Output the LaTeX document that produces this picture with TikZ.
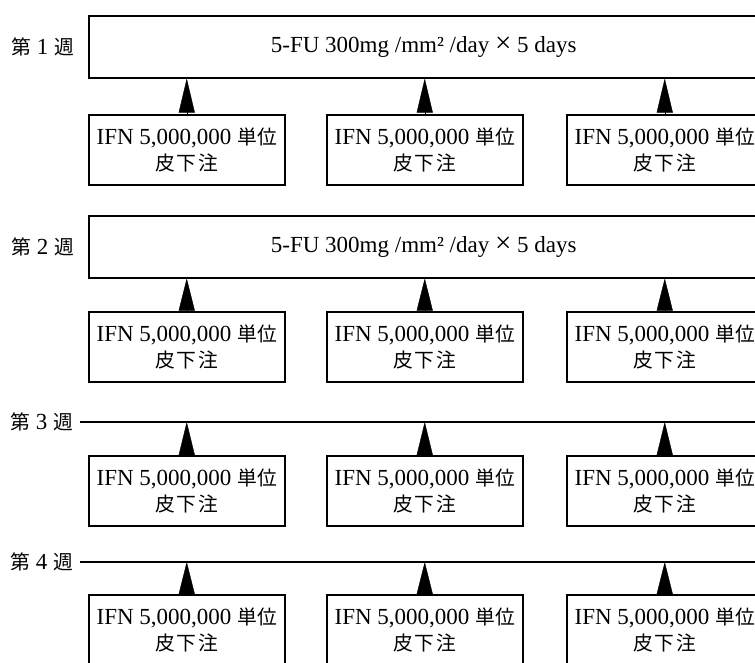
\documentclass[tikz,border=0pt]{standalone}
\usepackage{fontspec}
\setmainfont{Liberation Serif}
\newfontfamily\jp{Noto Sans CJK JP}[Scale=0.86]
\usepackage{tikz}
\usetikzlibrary{positioning, arrows.meta}
\tikzset{
    week/.style={
        draw,
        line width=1.5pt,
        anchor=north west,
        minimum width=670pt,
        minimum height=62pt,
        inner sep=0pt
    },
    dose/.style={
        draw,
        line width=1.5pt,
        anchor=north west,
        minimum width=196pt,
        minimum height=70pt,
        inner sep=0pt,
        align=center
    },
    wk/.style={
        inner sep=0pt
    },
    spike/.style={
        line width=0.4pt,
        -{Triangle[length=#1,width=16pt]}
    }
}
\newcommand{\ifn}{IFN 5,000,000 {\jp 単位}\\{\jp 皮\kern2pt 下\kern2pt 注}}
\newcommand{\fu}{5-FU 300mg /mm² /day {\fontsize{29pt}{26pt}\selectfont ×} 5 days}

\begin{document}
\begin{tikzpicture}[x=1pt,y=-1pt,
        font=\fontsize{23pt}{26pt}\selectfont
      ]
      \clip (0,0) rectangle (755,662);

      % week 1 and 2: 5-FU bars
      \node[week] (w1) at (88,15) {\fu};
      \node[week] (w2) at (88,215) {\fu};
      \node[wk, left=14pt of w1] (l1) {{\jp 第} 1 {\jp 週}};
      \node[wk, left=14pt of w2] (l2) {{\jp 第} 2 {\jp 週}};

      % week 3 and 4: plain lines
      \coordinate (w3) at (80,422);
      \coordinate (w3e) at (760,422);
      \coordinate (w4) at (80,562);
      \coordinate (w4e) at (760,562);
      \draw[line width=1.5pt] (w3) -- (w3e);
      \draw[line width=1.5pt] (w4) -- (w4e);
      \node[wk, left=7pt of w3] (l3) {{\jp 第} 3 {\jp 週}};
      \node[wk, left=7pt of w4] (l4) {{\jp 第} 4 {\jp 週}};

      % IFN boxes
      \node[dose] (b11) at (88,114) {\ifn};
      \node[dose] (b12) at (326,114) {\ifn};
      \node[dose] (b13) at (566,114) {\ifn};
      \node[dose] (b21) at (88,311) {\ifn};
      \node[dose] (b22) at (326,311) {\ifn};
      \node[dose] (b23) at (566,311) {\ifn};
      \node[dose] (b31) at (88,455) {\ifn};
      \node[dose] (b32) at (326,455) {\ifn};
      \node[dose] (b33) at (566,455) {\ifn};
      \node[dose] (b41) at (88,594) {\ifn};
      \node[dose] (b42) at (326,594) {\ifn};
      \node[dose] (b43) at (566,594) {\ifn};

      \draw[spike=34pt] (b11.north) -- (b11.north |- w1.south);
      \draw[spike=34pt] (b12.north) -- (b12.north |- w1.south);
      \draw[spike=34pt] (b13.north) -- (b13.north |- w1.south);
      \draw[spike=32pt] (b21.north) -- (b21.north |- w2.south);
      \draw[spike=32pt] (b22.north) -- (b22.north |- w2.south);
      \draw[spike=32pt] (b23.north) -- (b23.north |- w2.south);
      \draw[spike=33pt] (b31.north) -- (b31.north |- w3);
      \draw[spike=33pt] (b32.north) -- (b32.north |- w3);
      \draw[spike=33pt] (b33.north) -- (b33.north |- w3);
      \draw[spike=32pt] (b41.north) -- (b41.north |- w4);
      \draw[spike=32pt] (b42.north) -- (b42.north |- w4);
      \draw[spike=32pt] (b43.north) -- (b43.north |- w4);

    \end{tikzpicture}
\end{document}
